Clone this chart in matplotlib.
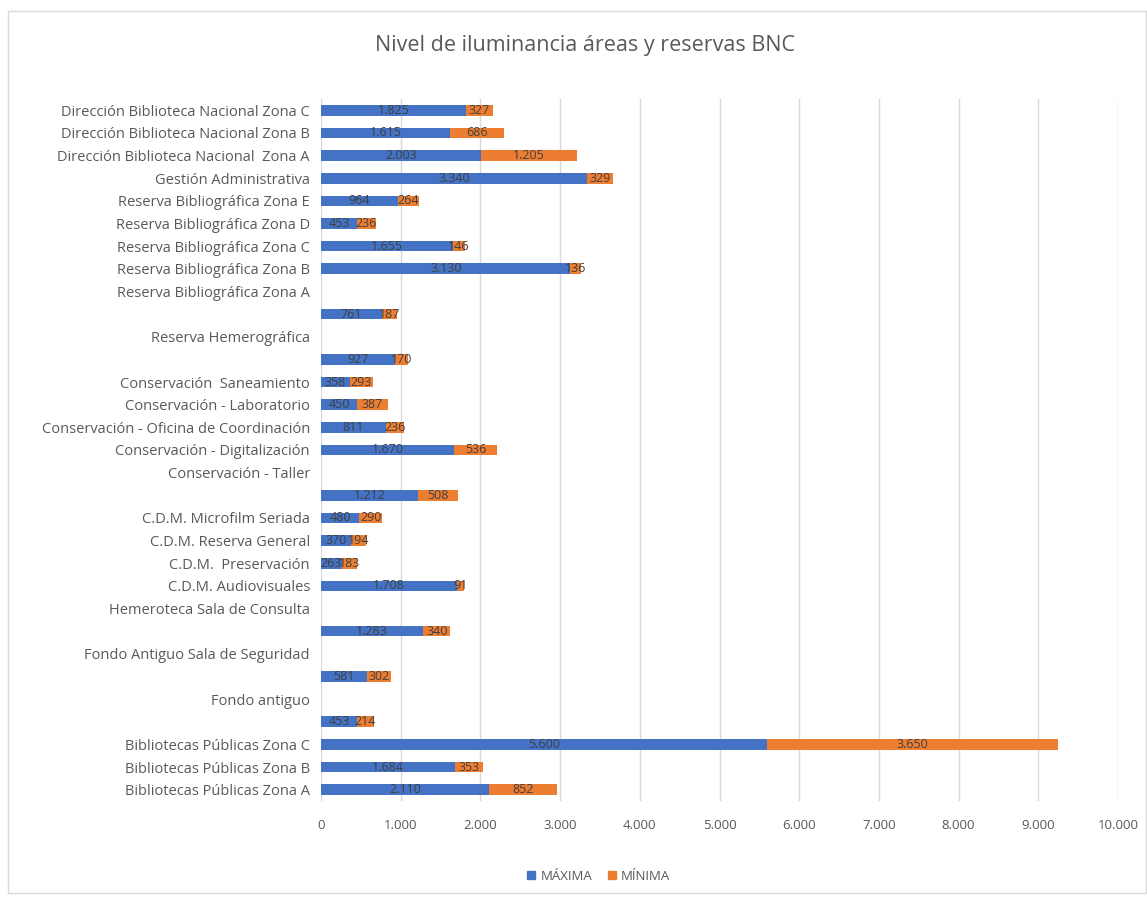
import matplotlib.pyplot as plt
from matplotlib.patches import Patch, Rectangle
import numpy as np

# categorias de arriba hacia abajo, tal como aparecen en el grafico
categorias = [
    "Dirección Biblioteca Nacional Zona C",
    "Dirección Biblioteca Nacional Zona B",
    "Dirección Biblioteca Nacional  Zona A",
    "Gestión Administrativa",
    "Reserva Bibliográfica Zona E",
    "Reserva Bibliográfica Zona D",
    "Reserva Bibliográfica Zona C",
    "Reserva Bibliográfica Zona B",
    "Reserva Bibliográfica Zona A",
    "",
    "Reserva Hemerográfica",
    "",
    "Conservación  Saneamiento",
    "Conservación - Laboratorio",
    "Conservación - Oficina de Coordinación",
    "Conservación - Digitalización",
    "Conservación - Taller",
    "",
    "C.D.M. Microfilm Seriada",
    "C.D.M. Reserva General",
    "C.D.M.  Preservación",
    "C.D.M. Audiovisuales",
    "Hemeroteca Sala de Consulta",
    "",
    "Fondo Antiguo Sala de Seguridad",
    "",
    "Fondo antiguo",
    "",
    "Bibliotecas Públicas Zona C",
    "Bibliotecas Públicas Zona B",
    "Bibliotecas Públicas Zona A",
]
maxima = [1825, 1615, 2003, 3340, 964, 453, 1655, 3130, None, 761, None, 927,
          358, 450, 811, 1670, None, 1212, 480, 370, 263, 1708, None, 1283,
          None, 581, None, 453, 5600, 1684, 2110]
minima = [327, 686, 1205, 329, 264, 236, 146, 136, None, 187, None, 170,
          293, 387, 236, 536, None, 508, 290, 194, 183, 91, None, 340,
          None, 302, None, 214, 3650, 353, 852]

AZUL = "#4472C4"
NARANJA = "#ED7D31"
GRIS = "#595959"
FUENTE = "Open Sans"


def fmt(v):
    if v is None:
        return ""
    return f"{v:,}".replace(",", ".")


fig = plt.figure(figsize=(11.47, 8.97), dpi=100)
fig.patches.append(Rectangle((0.007, 0.004), 0.992, 0.984, transform=fig.transFigure,
                             fill=False, edgecolor="#D9D9D9", linewidth=1))
ax = fig.add_axes([0.2799, 0.107, 0.6948, 0.7827])

y = np.arange(len(categorias))
mx = np.array([v if v is not None else 0 for v in maxima], dtype=float)
mn = np.array([v if v is not None else 0 for v in minima], dtype=float)

b1 = ax.barh(y, mx, height=0.47, color=AZUL, label="MÁXIMA", zorder=3)
b2 = ax.barh(y, mn, left=mx, height=0.47, color=NARANJA, label="MÍNIMA", zorder=3)
ax.bar_label(b1, labels=[fmt(v) for v in maxima], label_type="center",
             color="#404040", fontsize=9, family=FUENTE, zorder=4)
ax.bar_label(b2, labels=[fmt(v) for v in minima], label_type="center",
             color="#404040", fontsize=9, family=FUENTE, zorder=4)

ax.set_ylim(len(categorias) - 0.5, -0.5)
ax.set_yticks(y)
ax.set_yticklabels(categorias, family=FUENTE, fontsize=10.5, color=GRIS)
ax.set_xlim(0, 10000)
ticks = np.arange(0, 10001, 1000)
ax.set_xticks(ticks)
ax.set_xticklabels([fmt(int(t)) for t in ticks], family=FUENTE, fontsize=9.5, color=GRIS)
ax.tick_params(length=0, pad=8)
ax.tick_params(axis="x", pad=13)
ax.grid(axis="x", color="#D9D9D9", linewidth=1, zorder=0)
for s in ax.spines.values():
    s.set_visible(False)

fig.text(0.51, 0.949, "Nivel de iluminancia áreas y reservas BNC", ha="center", va="center",
         family=FUENTE, fontsize=15.5, color=GRIS)

handles = [Patch(color=AZUL), Patch(color=NARANJA)]
fig.legend(handles, ["MÁXIMA", "MÍNIMA"], loc="center", bbox_to_anchor=(0.522, 0.023),
           ncol=2, frameon=False, handlelength=0.6, handleheight=0.6, handletextpad=0.4,
           columnspacing=1.2, prop={"family": FUENTE, "size": 9.5}, labelcolor=GRIS)

fig.savefig("out.png", dpi=100)
